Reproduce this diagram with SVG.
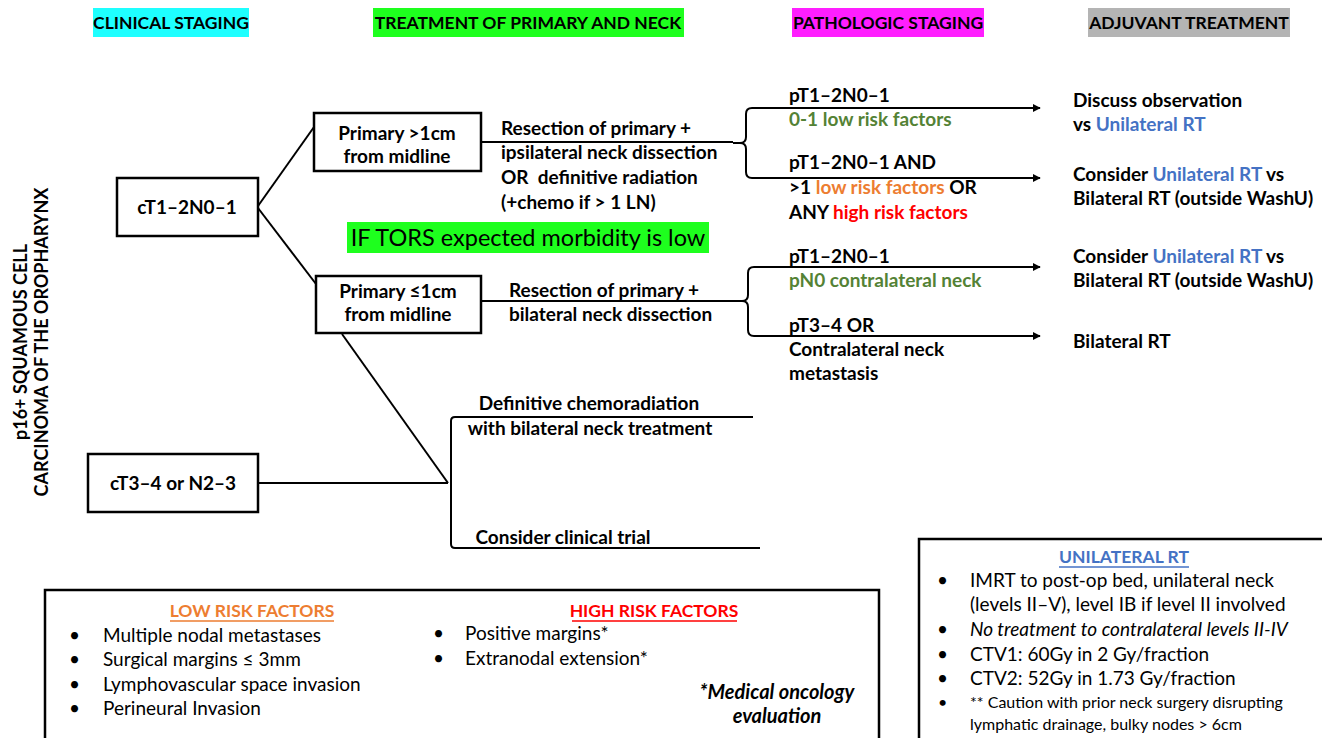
<svg xmlns="http://www.w3.org/2000/svg" width="1322" height="738" viewBox="0 0 1322 738">
<style>
text{font-family:Lato,"Open Sans","Liberation Sans",sans-serif;fill:#000}
.b{font-weight:bold;font-size:19px}
.h{font-weight:bold;font-size:17.5px}
.r{font-size:19px}
.s{font-size:16px}
.c{text-anchor:middle}
.box{fill:#fff;stroke:#000;stroke-width:2.5}
.ln{fill:none;stroke:#000;stroke-width:2}
.g{fill:#548235}
.o{fill:#ED7D31}
.rd{fill:#FF0000}
.bl{fill:#4472C4}
</style>
<defs>
<marker id="ah" viewBox="0 0 10 10" refX="9" refY="5" markerWidth="8" markerHeight="8" markerUnits="userSpaceOnUse" orient="auto">
<path d="M0,0 L10,5 L0,10 z" fill="#000"/>
</marker>
</defs>
<rect width="1322" height="738" fill="#fff"/>

<g id="headers">
<rect x="93" y="8" width="156" height="29" fill="#1EFFFF"/>
<text class="h c" x="171" y="29">CLINICAL STAGING</text>
<rect x="373" y="8" width="311" height="29" fill="#1EFF1E"/>
<text class="h c" x="528" y="29">TREATMENT OF PRIMARY AND NECK</text>
<rect x="792" y="8" width="192" height="29" fill="#FF1EFF"/>
<text class="h c" x="888" y="29">PATHOLOGIC STAGING</text>
<rect x="1088" y="8" width="202" height="29" fill="#B4B4B4"/>
<text class="h c" x="1189" y="29">ADJUVANT TREATMENT</text>
</g>

<g id="title">
<text class="b c" transform="translate(27,342) rotate(-90)" style="font-size:18px">p16+ SQUAMOUS CELL</text>
<text class="b c" transform="translate(48,342) rotate(-90)" style="font-size:18px">CARCINOMA OF THE OROPHARYNX</text>
</g>

<g id="connectors">
<line class="ln" x1="258" y1="206" x2="314" y2="127"/>
<line class="ln" x1="258" y1="208" x2="316" y2="284"/>
<line class="ln" x1="342" y1="334" x2="448" y2="483"/>
<line class="ln" x1="258" y1="483" x2="448" y2="483"/>
<path class="ln" d="M753,417 H455 Q451,417 451,421 V544 Q451,548 455,548 H760"/>
<line class="ln" x1="481" y1="142" x2="733" y2="142"/>
<path class="ln" d="M733,143 H740 Q746,143 746,137 V114 Q746,108 752,108 H1040" marker-end="url(#ah)"/>
<path class="ln" d="M740,143 Q746,143 746,149 V172 Q746,178 752,178 H1040" marker-end="url(#ah)"/>
<line class="ln" x1="481" y1="301" x2="735" y2="301"/>
<path class="ln" d="M735,301 H742 Q748,301 748,295 V273 Q748,267 754,267 H1040" marker-end="url(#ah)"/>
<path class="ln" d="M742,301 Q748,301 748,307 V330 Q748,336 754,336 H1040" marker-end="url(#ah)"/>
</g>

<g id="n-ct12">
<rect class="box" x="117" y="178" width="141" height="58"/>
<text class="b c" x="187" y="214">cT1–2N0–1</text>
</g>
<g id="n-primary-gt1">
<rect class="box" x="314" y="113" width="167" height="58"/>
<text class="b c" x="397" y="140">Primary &gt;1cm</text>
<text class="b c" x="397" y="163">from midline</text>
</g>
<g id="n-primary-le1">
<rect class="box" x="316" y="276" width="165" height="57"/>
<text class="b c" x="398" y="298">Primary ≤1cm</text>
<text class="b c" x="398" y="321">from midline</text>
</g>
<g id="n-ct34">
<rect class="box" x="88" y="454" width="170" height="58"/>
<text class="b c" x="173" y="490">cT3–4 or N2–3</text>
</g>

<g id="t-resection1">
<text class="b" x="501" y="135">Resection of primary +</text>
<text class="b" x="501" y="159">ipsilateral neck dissection</text>
<text class="b" x="501" y="184" xml:space="preserve">OR  definitive radiation</text>
<text class="b" x="501" y="209">(+chemo if &gt; 1 LN)</text>
</g>
<g id="t-tors">
<rect x="347" y="222" width="362" height="31" fill="#1EFF1E"/>
<text class="c" x="528" y="246" style="font-size:23.5px">IF TORS expected morbidity is low</text>
</g>
<g id="t-resection2">
<text class="b" x="509" y="297">Resection of primary +</text>
<text class="b" x="509" y="321">bilateral neck dissection</text>
</g>
<g id="t-chemorad">
<text class="b c" x="589" y="410">Definitive chemoradiation</text>
<text class="b c" x="590" y="435">with bilateral neck treatment</text>
<text class="b c" x="563" y="544">Consider clinical trial</text>
</g>

<g id="t-path">
<text class="b" x="789" y="102">pT1–2N0–1</text>
<text class="b g" x="789" y="126">0-1 low risk factors</text>
<text class="b" x="789" y="169">pT1–2N0–1 AND</text>
<text class="b" x="789" y="194">&gt;1 <tspan class="o">low risk factors</tspan> OR</text>
<text class="b" x="789" y="219">ANY <tspan class="rd">high risk factors</tspan></text>
<text class="b" x="789" y="263">pT1–2N0–1</text>
<text class="b g" x="789" y="287">pN0 contralateral neck</text>
<text class="b" x="789" y="332">pT3–4 OR</text>
<text class="b" x="789" y="356">Contralateral neck</text>
<text class="b" x="789" y="380">metastasis</text>
</g>

<g id="t-adjuvant">
<text class="b" x="1073" y="107">Discuss observation</text>
<text class="b" x="1073" y="131">vs <tspan class="bl">Unilateral RT</tspan></text>
<text class="b" x="1073" y="181">Consider <tspan class="bl">Unilateral RT</tspan> vs</text>
<text class="b" x="1073" y="205">Bilateral RT (outside WashU)</text>
<text class="b" x="1073" y="263">Consider <tspan class="bl">Unilateral RT</tspan> vs</text>
<text class="b" x="1073" y="287">Bilateral RT (outside WashU)</text>
<text class="b" x="1073" y="348">Bilateral RT</text>
</g>

<g id="risk-box">
<rect x="45" y="590" width="834" height="160" fill="#fff" stroke="#000" stroke-width="2.5"/>
<text class="h c o" x="252" y="617">LOW RISK FACTORS</text>
<line x1="170" y1="621" x2="334" y2="621" stroke="#ED7D31" stroke-width="1.5"/>
<text class="r" x="69" y="642">•</text><text class="r" x="103" y="642">Multiple nodal metastases</text>
<text class="r" x="69" y="666">•</text><text class="r" x="103" y="666">Surgical margins ≤ 3mm</text>
<text class="r" x="69" y="691">•</text><text class="r" x="103" y="691">Lymphovascular space invasion</text>
<text class="r" x="69" y="715">•</text><text class="r" x="103" y="715">Perineural Invasion</text>
<text class="h c rd" x="654" y="617">HIGH RISK FACTORS</text>
<line x1="572" y1="621" x2="737" y2="621" stroke="#FF0000" stroke-width="1.5"/>
<text class="r" x="433" y="640">•</text><text class="r" x="465" y="640">Positive margins*</text>
<text class="r" x="433" y="665">•</text><text class="r" x="465" y="665">Extranodal extension*</text>
<text class="b c" x="777" y="699" font-style="italic" style="font-size:20px">*Medical oncology</text>
<text class="b c" x="777" y="723" font-style="italic" style="font-size:20px">evaluation</text>
</g>

<g id="unilateral-box">
<rect x="919" y="539" width="420" height="210" fill="#fff" stroke="#000" stroke-width="2.5"/>
<text class="h c bl" x="1124" y="563">UNILATERAL RT</text>
<line x1="1059" y1="567" x2="1189" y2="567" stroke="#4472C4" stroke-width="1.5"/>
<text class="r" x="937" y="587">•</text><text class="r" x="970" y="587">IMRT to post-op bed, unilateral neck</text>
<text class="r" x="970" y="611">(levels II–V), level IB if level II involved</text>
<text class="r" x="937" y="636">•</text><text class="r" x="970" y="636" font-style="italic">No treatment to contralateral levels II-IV</text>
<text class="r" x="937" y="661">•</text><text class="r" x="970" y="661">CTV1: 60Gy in 2 Gy/fraction</text>
<text class="r" x="937" y="685">•</text><text class="r" x="970" y="685">CTV2: 52Gy in 1.73 Gy/fraction</text>
<text class="s" x="938" y="708">•</text><text class="s" x="970" y="708">** Caution with prior neck surgery disrupting</text>
<text class="s" x="970" y="730">lymphatic drainage, bulky nodes &gt; 6cm</text>
</g>
</svg>
